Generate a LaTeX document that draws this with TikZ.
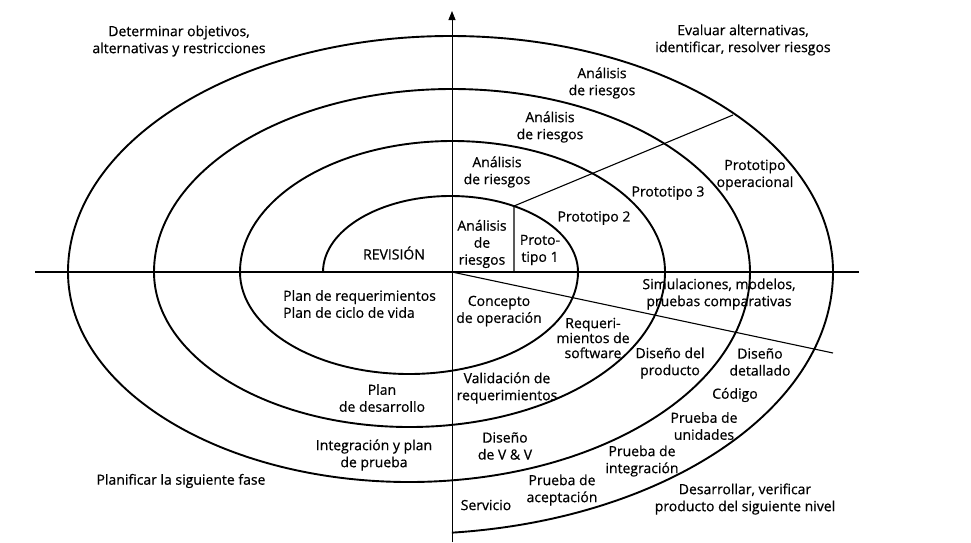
\documentclass[tikz,border=0pt]{standalone}
\usepackage{fontspec}
\setmainfont{Open Sans}
\newfontfamily\lblfont{Open Sans}[FakeBold=0.6]
\usetikzlibrary{arrows.meta}
\begin{document}
\begin{tikzpicture}[x=1pt,y=-1pt,
  lbl/.style={align=center, inner sep=0pt, font=\lblfont\fontsize{14}{17}\selectfont},
  spiral/.style={line width=1.9pt},
  axisline/.style={line width=1.3pt},
  vaxis/.style={line width=0.9pt},
  radial/.style={line width=1.1pt}]
\useasboundingbox (0,0) rectangle (971,542);
% axes
\coordinate (B) at (452,542);
\coordinate (T) at (452,11);
\coordinate (L) at (35,272);
\coordinate (R) at (859,272);
\coordinate (O) at (452,272);
\coordinate (D0) at (514,272);
\coordinate (D1) at (514,206);
\coordinate (D2) at (733,115);
\coordinate (Q) at (833,353);
\coordinate (S) at (323,272);
\draw[vaxis,-{Triangle[length=9pt,width=7pt]}] (B) -- (T);
\draw[axisline] (L) -- (R);
% spiral
\draw[spiral] (S)
 arc[start angle=180,end angle=0,x radius=127.5pt,y radius=76pt]
 arc[start angle=0,end angle=-180,x radius=169pt,y radius=102pt]
 arc[start angle=180,end angle=0,x radius=212.5pt,y radius=131pt]
 arc[start angle=0,end angle=-180,x radius=255.5pt,y radius=155pt]
 arc[start angle=180,end angle=0,x radius=298pt,y radius=183pt]
 arc[start angle=0,end angle=-180,x radius=341pt,y radius=210pt]
 arc[start angle=180,end angle=0,x radius=382.5pt,y radius=236pt]
 arc[start angle=0,end angle=-84.2,x radius=424pt,y radius=262pt];
% radial lines
\draw[radial] (D0) -- (D1) -- (D2);
\draw[radial] (O) -- (Q);
% labels
\node[lbl] (t1) at (179,41) {Determinar objetivos,\\alternativas y restricciones};
\node[lbl] (t2) at (743,40) {Evaluar alternativas,\\identificar, resolver riesgos};
\node[lbl] (a4) at (602,83) {Análisis\\de riesgos};
\node[lbl] (a3) at (550,127) {Análisis\\de riesgos};
\node[lbl] (a2) at (497,172) {Análisis\\de riesgos};
\node[lbl] (a1) at (482,244) {Análisis\\de\\riesgos};
\node[lbl] (p1) at (540,250) {Proto-\\tipo 1};
\node[lbl] (p2) at (594,218) {Prototipo 2};
\node[lbl] (p3) at (668,193) {Prototipo 3};
\node[lbl] (pop) at (755,175) {Prototipo\\operacional};
\node[lbl] (rev) at (394,253) {REVISIÓN};
\node[lbl,align=left,anchor=west] (plan) at (283,304) {Plan de requerimientos\\Plan de ciclo de vida};
\node[lbl] (conc) at (499,311) {Concepto\\de operación};
\node[lbl,font=\lblfont\fontsize{14}{15}\selectfont] (req) at (593,338) {Requeri-\\mientos de\\software};
\node[lbl] (sim) at (719,294) {Simulaciones, modelos,\\pruebas comparativas};
\node[lbl] (dp) at (670,363) {Diseño del\\producto};
\node[lbl] (dd) at (760,362) {Diseño\\detallado};
\node[lbl] (cod) at (735,395) {Código};
\node[lbl] (pu) at (704,426) {Prueba de\\unidades};
\node[lbl] (val) at (507,388) {Validación de\\requerimientos};
\node[lbl] (pd) at (382,398) {Plan\\de desarrollo};
\node[lbl] (dvv) at (505,446) {Diseño\\de V \& V};
\node[lbl] (ip) at (374,455) {Integración y plan\\de prueba};
\node[lbl] (plf) at (181,481) {Planificar la siguiente fase};
\node[lbl] (pi) at (642,461) {Prueba de\\integración};
\node[lbl] (pa) at (562,490) {Prueba de\\aceptación};
\node[lbl] (serv) at (486,505) {Servicio};
\node[lbl] (dv) at (745,499) {Desarrollar, verificar\\producto del siguiente nivel};
\end{tikzpicture}
\end{document}
